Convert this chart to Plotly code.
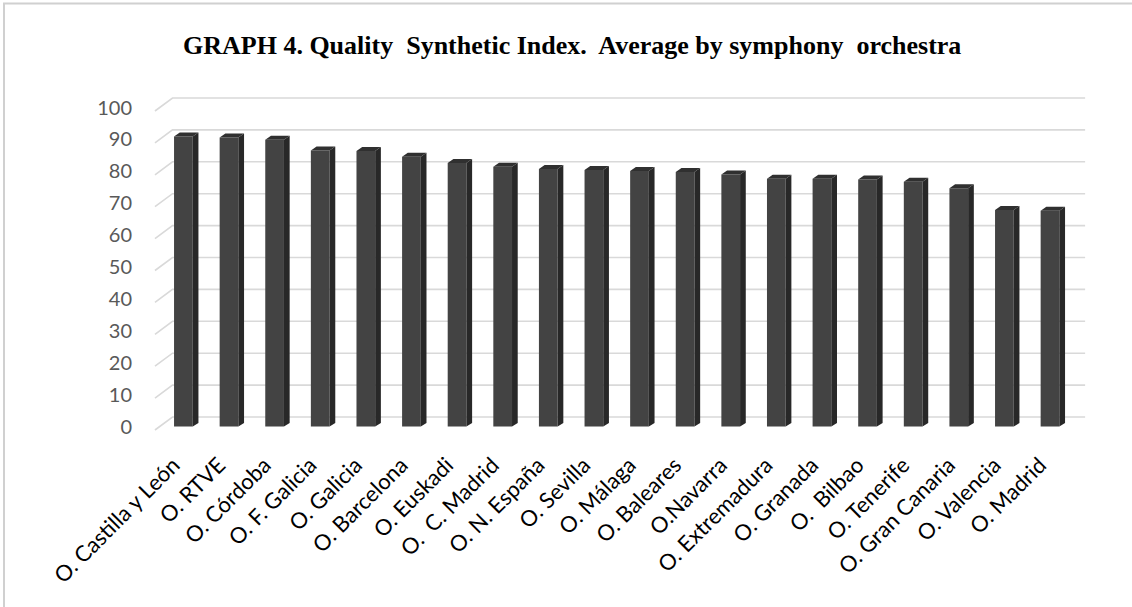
import plotly.graph_objects as go

# ---- data ----
categories = ["O. Castilla y León", "O. RTVE", "O. Córdoba", "O. F. Galicia", "O. Galicia",
              "O. Barcelona", "O. Euskadi", "O.  C. Madrid", "O. N. España", "O. Sevilla",
              "O. Málaga", "O. Baleares", "O.Navarra", "O. Extremadura", "O. Granada",
              "O.  Bilbao", "O. Tenerife", "O. Gran Canaria", "O. Valencia", "O. Madrid"]
values = [90.9, 90.6, 89.9, 86.5, 86.4, 84.6, 82.6, 81.4, 80.7, 80.4,
          80.1, 79.8, 79.0, 77.7, 77.7, 77.4, 76.7, 74.7, 67.9, 67.6]
y_ticks = [0, 10, 20, 30, 40, 50, 60, 70, 80, 90, 100]
title_text = "GRAPH 4. Quality  Synthetic Index.  Average by symphony  orchestra"

# ---- style constants ----
BAR_W = 0.41          # front face width (x units)
DEPTH_X = 0.125       # bar depth offset in x units
DEPTH_Y = 1.25        # bar depth offset in y units
FRONT_C = "#434343"
SIDE_C = "#282828"
CAP_C = "#303030"
GRID_C = "#d9d9d9"
X_RANGE = [-0.732, 19.877]
Y_RANGE = [-1.724, 103.92]
WALL_FRONT_X, WALL_BACK_X, WALL_RIGHT_X = -0.623, -0.239, 19.77
WALL_FRONT_DY, WALL_BACK_DY = -1.1, 2.98
LABEL_SHIFT = 0.22

idx = list(range(len(categories)))
half = BAR_W / 2

# side faces and top caps as polygons derived from the values
side_x, side_y, cap_x, cap_y = [], [], [], []
for i, v in zip(idx, values):
    xr = i + half
    side_x += [xr, xr + DEPTH_X, xr + DEPTH_X, xr, xr, None]
    side_y += [0, DEPTH_Y * 0.85, v + DEPTH_Y, v, 0, None]
    cap_x += [i - half, xr, xr + DEPTH_X, i - half + DEPTH_X, i - half, None]
    cap_y += [v, v, v + DEPTH_Y, v + DEPTH_Y, v, None]

fig = go.Figure()
fig.add_trace(go.Bar(x=idx, y=values, width=BAR_W, marker=dict(color=FRONT_C, line=dict(width=0)),
                     hoverinfo="x+y", showlegend=False))
fig.add_trace(go.Scatter(x=side_x, y=side_y, mode="lines", fill="toself", fillcolor=SIDE_C,
                         line=dict(width=0, color=SIDE_C), hoverinfo="skip", showlegend=False))
fig.add_trace(go.Scatter(x=cap_x, y=cap_y, mode="lines", fill="toself", fillcolor=CAP_C,
                         line=dict(width=0, color=CAP_C), hoverinfo="skip", showlegend=False))

# 3D-style gridlines (back wall + floor diagonals)
shapes = []
for t in y_ticks:
    path = (f"M {WALL_FRONT_X},{t + WALL_FRONT_DY} L {WALL_BACK_X},{t + WALL_BACK_DY} "
            f"L {WALL_RIGHT_X},{t + WALL_BACK_DY}")
    shapes.append(dict(type="path", path=path, xref="x", yref="y", layer="below",
                       line=dict(color=GRID_C, width=1.6)))
# outer chart frame (left and top edges visible)
shapes.append(dict(type="rect", xref="paper", yref="paper", x0=-0.1553, x1=1.2, y0=-1.0, y1=1.2715,
                   line=dict(color="#d0d0d0", width=2), fillcolor="rgba(0,0,0,0)", layer="below"))

fig.update_layout(
    width=1132, height=607, autosize=False,
    margin=dict(l=150, r=42, t=95, b=175),
    paper_bgcolor="white", plot_bgcolor="white",
    bargap=0.5,
    shapes=shapes,
    xaxis=dict(range=X_RANGE, tickmode="array", tickvals=[i - LABEL_SHIFT for i in idx],
               ticktext=[c.replace("  ", "\u00a0 ") for c in categories],
               tickangle=-45, showgrid=False, zeroline=False, showline=False, ticks="",
               tickfont=dict(family="Lato", size=22, color="#000000"), ticklabelstandoff=15),
    yaxis=dict(range=Y_RANGE, tickmode="array", tickvals=y_ticks, showgrid=False,
               zeroline=False, showline=False, ticks="",
               tickfont=dict(family="Lato", size=20, color="#595959"), ticklabelstandoff=17),
    annotations=[dict(text="<b>" + title_text.replace("  ", "\u00a0 ") + "</b>",
                      xref="paper", yref="paper", x=0.449, y=1.148, xanchor="center",
                      yanchor="middle", showarrow=False,
                      font=dict(family="Liberation Serif", size=26, color="#000000"))],
)

fig.write_html("out.html", config={"displayModeBar": False},
               post_script="document.body.style.margin='0';document.body.style.overflow='hidden';")
